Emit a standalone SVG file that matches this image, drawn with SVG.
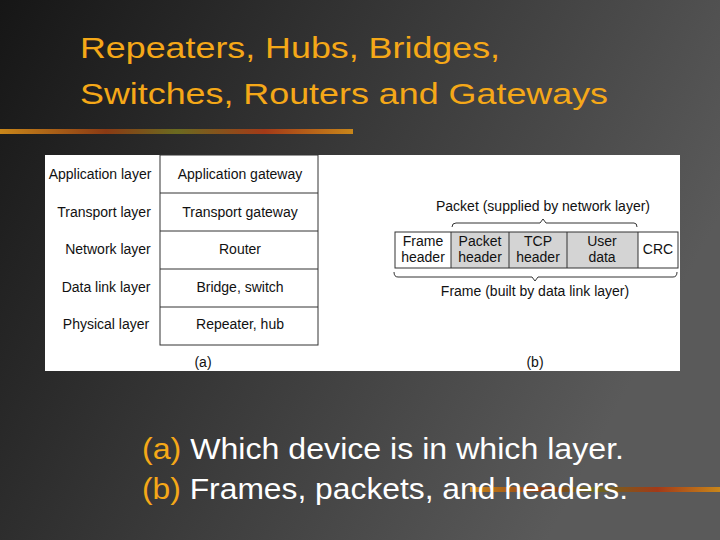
<svg xmlns="http://www.w3.org/2000/svg" width="720" height="540" viewBox="0 0 720 540">
<defs>
<linearGradient id="bg" x1="0" y1="0" x2="1" y2="0.4">
<stop offset="0" stop-color="#161616"/><stop offset="1" stop-color="#5a5a5a"/>
</linearGradient>
<linearGradient id="bar" x1="0" y1="0" x2="1" y2="0">
<stop offset="0" stop-color="#c8861a"/><stop offset="0.3" stop-color="#8a3a14"/><stop offset="0.5" stop-color="#6a6a20"/><stop offset="0.75" stop-color="#a33a18"/><stop offset="1" stop-color="#c8861a"/>
</linearGradient>
<style>
.t{font-family:"Liberation Sans",Arial,sans-serif;font-size:14px;fill:#111;text-anchor:middle}
.y{font-family:"Liberation Sans",Arial,sans-serif;font-size:30px;fill:#f5a818}
.b{fill:none;stroke:#333;stroke-width:1}
</style>
</defs>
<rect width="720" height="540" fill="url(#bg)"/>
<text class="y" x="80" y="58" textLength="420" lengthAdjust="spacingAndGlyphs">Repeaters, Hubs, Bridges,</text>
<text class="y" x="80" y="104" textLength="528" lengthAdjust="spacingAndGlyphs">Switches, Routers and Gateways</text>
<rect x="0" y="129" width="353" height="5" fill="url(#bar)"/>
<rect x="470" y="487" width="250" height="5" fill="url(#bar)"/>
<rect x="45" y="155" width="635" height="216" fill="#fff"/>
<g id="table">
<rect class="b" x="160" y="155" width="158" height="190"/>
<path class="b" d="M160 193H318M160 231H318M160 269H318M160 307H318"/>
<text class="t" x="100" y="179">Application layer</text>
<text class="t" x="104" y="217">Transport layer</text>
<text class="t" x="108" y="254">Network layer</text>
<text class="t" x="106" y="292">Data link layer</text>
<text class="t" x="106" y="329">Physical layer</text>
<text class="t" x="240" y="179">Application gateway</text>
<text class="t" x="240" y="217">Transport gateway</text>
<text class="t" x="240" y="254">Router</text>
<text class="t" x="240" y="292">Bridge, switch</text>
<text class="t" x="240" y="329">Repeater, hub</text>
<text class="t" x="203" y="367">(a)</text>
</g>
<g id="frame">
<rect x="451" y="232" width="187" height="36" fill="#d4d4d4"/>
<rect class="b" x="395" y="232" width="283" height="36"/>
<path class="b" d="M451 232V268M509 232V268M567 232V268M638 232V268"/>
<text class="t" x="423" y="246">Frame</text><text class="t" x="423" y="262">header</text>
<text class="t" x="480" y="246">Packet</text><text class="t" x="480" y="262">header</text>
<text class="t" x="538" y="246">TCP</text><text class="t" x="538" y="262">header</text>
<text class="t" x="602" y="246">User</text><text class="t" x="602" y="262">data</text>
<text class="t" x="658" y="254">CRC</text>
<text class="t" x="543" y="211">Packet (supplied by network layer)</text>
<text class="t" x="535" y="296">Frame (built by data link layer)</text>
<text class="t" x="535" y="367">(b)</text>
</g>
<g id="connectors">
<path class="b" d="M452 227Q452 223 456 223H540L543 219L546 223H634Q637 223 637 227"/>
<path class="b" d="M394 272Q394 277 398 277H532L535 281L538 277H673Q677 277 677 272"/>
</g>
<text class="y" x="142" y="459" font-size="28" textLength="482" lengthAdjust="spacingAndGlyphs"><tspan fill="#f5a818">(a)</tspan><tspan fill="#fff"> Which device is in which layer.</tspan></text>
<text class="y" x="142" y="499" font-size="28" textLength="486" lengthAdjust="spacingAndGlyphs"><tspan fill="#f5a818">(b)</tspan><tspan fill="#fff"> Frames, packets, and headers.</tspan></text>
</svg>
